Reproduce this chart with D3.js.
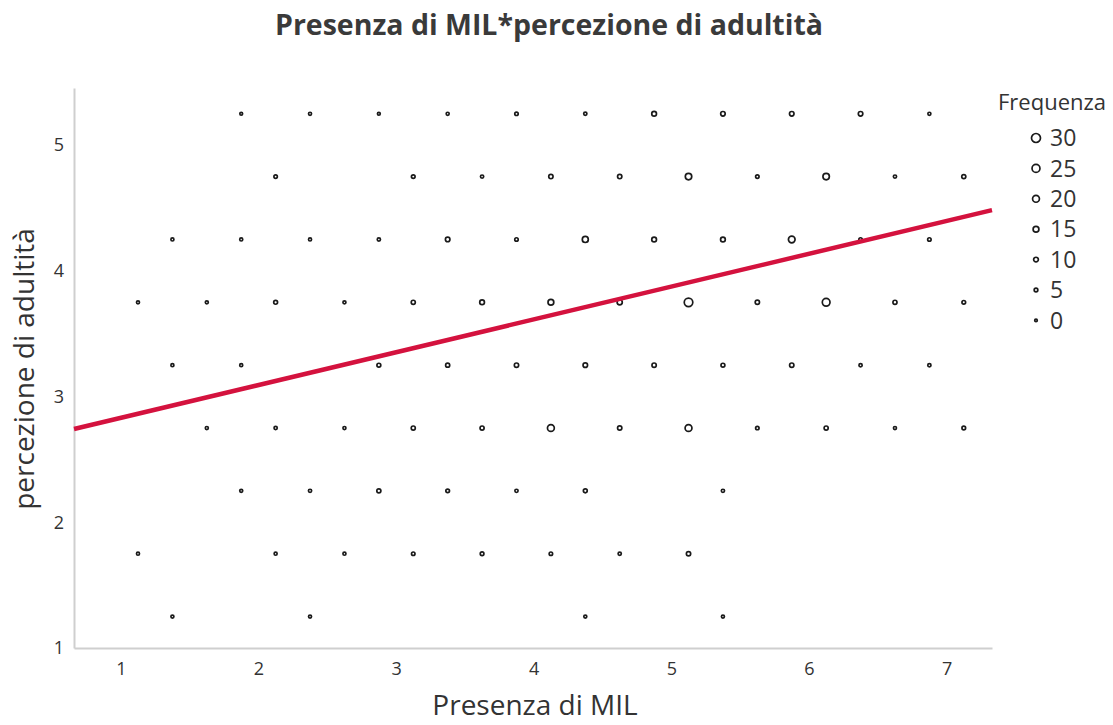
<!DOCTYPE html>
<html>
<head>
<meta charset="utf-8">
<script src="https://cdn.jsdelivr.net/npm/d3@7"></script>
<style>
  html, body { margin: 0; padding: 0; background: #fff; }
  svg { display: block; }
</style>
</head>
<body>
<svg id="chart" width="1113" height="725"></svg>
<script>
// Frequency of each (Presenza di MIL, percezione di adultità) pair, one row per y level
const rowLevels = [5.25, 4.75, 4.25, 3.75, 3.25, 2.75, 2.25, 1.75, 1.25];
const rowX = [
  [1.875, 2.375, 2.875, 3.375, 3.875, 4.375, 4.875, 5.375, 5.875, 6.375, 6.875],
  [2.125, 3.125, 3.625, 4.125, 4.625, 5.125, 5.625, 6.125, 6.625, 7.125],
  [1.375, 1.875, 2.375, 2.875, 3.375, 3.875, 4.375, 4.875, 5.375, 5.875, 6.375, 6.875],
  [1.125, 1.625, 2.125, 2.625, 3.125, 3.625, 4.125, 4.625, 5.125, 5.625, 6.125, 6.625, 7.125],
  [1.375, 1.875, 2.875, 3.375, 3.875, 4.375, 4.875, 5.375, 5.875, 6.375, 6.875],
  [1.625, 2.125, 2.625, 3.125, 3.625, 4.125, 4.625, 5.125, 5.625, 6.125, 6.625, 7.125],
  [1.875, 2.375, 2.875, 3.375, 3.875, 4.375, 5.375],
  [1.125, 2.125, 2.625, 3.125, 3.625, 4.125, 4.625, 5.125],
  [1.375, 2.375, 4.375, 5.375]
];
const rowFreq = [
  [1, 2, 1, 2, 4, 3, 10, 9, 9, 9, 2],
  [4, 5, 3, 8, 8, 18, 4, 18, 3, 7],
  [2, 2, 2, 3, 9, 4, 16, 10, 10, 19, 4, 4],
  [2, 2, 6, 2, 7, 10, 15, 12, 28, 8, 24, 7, 5],
  [2, 2, 6, 7, 8, 9, 8, 6, 8, 3, 3],
  [2, 3, 2, 7, 7, 20, 8, 20, 4, 7, 2, 5],
  [2, 3, 7, 5, 3, 6, 3],
  [2, 2, 2, 4, 5, 4, 3, 8],
  [2, 2, 2, 2]
];

// Linear fit line
const fitIntercept = 2.57;
const fitSlope = 0.261;

// Axis ticks and legend entries
const xTicks = [1, 2, 3, 4, 5, 6, 7];
const yTicks = [1, 2, 3, 4, 5];
const legendValues = [30, 25, 20, 15, 10, 5, 0];

const title = "Presenza di MIL*percezione di adultità";
const xTitle = "Presenza di MIL";
const yTitle = "percezione di adultità";
const legendTitle = "Frequenza";

const points = [];
rowLevels.forEach((yv, i) => {
  rowX[i].forEach((xv, j) => points.push({ x: xv, y: yv, f: rowFreq[i][j] }));
});

const svg = d3.select("#chart");
const plot = { left: 74, right: 992, top: 88, bottom: 648 };

const x = d3.scaleLinear().domain([0.66, 7.33]).range([plot.left, plot.right]);
const y = d3.scaleLinear().domain([1, 5.455]).range([plot.bottom, plot.top]);
const r = d3.scaleLinear().domain([0, 30]).range([1.3, 4.5]);

const textColor = "#333";
const axisColor = "#cfcfcf";
const font = "'Open Sans', 'Noto Sans', sans-serif";

// Title
svg.append("text")
  .attr("x", 549).attr("y", 35)
  .attr("text-anchor", "middle")
  .attr("font-family", font)
  .attr("font-weight", 700)
  .attr("font-size", 28.5)
  .attr("fill", "#3a3a3a")
  .text(title);

// Axes
const xAxis = d3.axisBottom(x).tickValues(xTicks).tickSize(0).tickPadding(14).tickFormat(d3.format("d"));
const yAxis = d3.axisLeft(y).tickValues(yTicks).tickSize(0).tickPadding(10).tickFormat(d3.format("d"));

const gx = svg.append("g").attr("transform", `translate(0,${plot.bottom})`).call(xAxis);
const gy = svg.append("g").attr("transform", `translate(${plot.left},0)`).call(yAxis);
[gx, gy].forEach(g => {
  g.select(".domain").attr("stroke", axisColor).attr("stroke-width", 2);
  g.selectAll("text").attr("font-family", font).attr("font-size", 18).attr("fill", textColor);
});

// Axis titles
svg.append("text")
  .attr("x", 535).attr("y", 715)
  .attr("text-anchor", "middle")
  .attr("font-family", font)
  .attr("font-size", 28)
  .attr("fill", textColor)
  .text(xTitle);

svg.append("text")
  .attr("transform", "translate(34,369) rotate(-90)")
  .attr("text-anchor", "middle")
  .attr("font-family", font)
  .attr("font-size", 28)
  .attr("fill", textColor)
  .text(yTitle);

// Frequency bubbles
svg.append("g")
  .selectAll("circle")
  .data(points)
  .join("circle")
  .attr("cx", d => x(d.x))
  .attr("cy", d => y(d.y))
  .attr("r", d => r(d.f))
  .attr("fill", "none")
  .attr("stroke", "#1a1a1a")
  .attr("stroke-width", 1.7);

// Fit line across the full x range
const [x0, x1] = x.domain();
svg.append("line")
  .attr("x1", x(x0)).attr("y1", y(fitIntercept + fitSlope * x0))
  .attr("x2", x(x1)).attr("y2", y(fitIntercept + fitSlope * x1))
  .attr("stroke", "#d4123e")
  .attr("stroke-width", 4.5);

// Legend
const legend = svg.append("g");
legend.append("text")
  .attr("x", 998).attr("y", 110)
  .attr("font-family", font)
  .attr("font-size", 22)
  .attr("fill", textColor)
  .text(legendTitle);

const items = legend.selectAll("g.item")
  .data(legendValues)
  .join("g")
  .attr("class", "item")
  .attr("transform", (d, i) => `translate(1036,${138 + i * 30.4})`);
items.append("circle")
  .attr("r", d => r(d))
  .attr("fill", "none")
  .attr("stroke", "#1a1a1a")
  .attr("stroke-width", 1.7);
items.append("text")
  .attr("x", 14).attr("dy", "0.36em")
  .attr("font-family", font)
  .attr("font-size", 23)
  .attr("fill", textColor)
  .text(d => d);
</script>
</body>
</html>
